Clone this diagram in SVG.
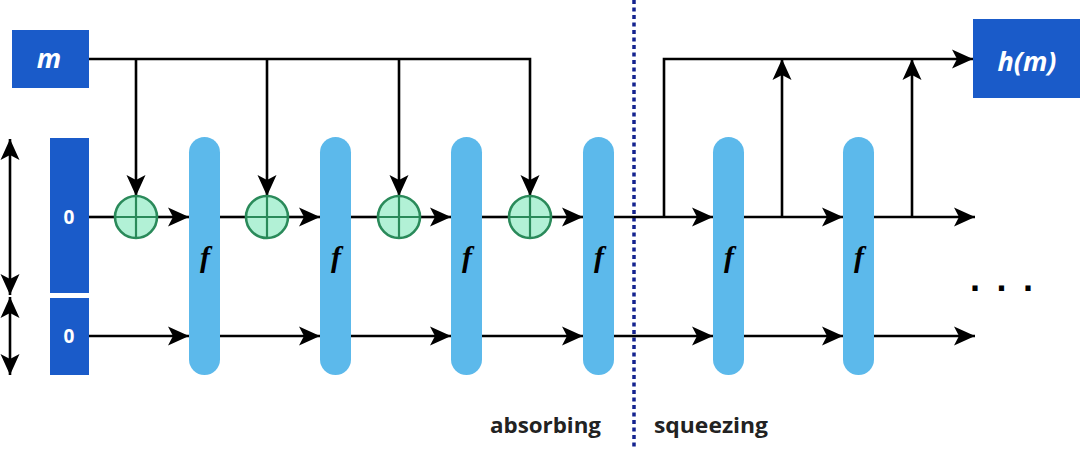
<svg xmlns="http://www.w3.org/2000/svg" width="1080" height="450" viewBox="0 0 1080 450">
<style>
.ln{stroke:#000;stroke-width:2.6;fill:none}
.ar{marker-end:url(#ah)}
.blk{fill:#1a5bc9}
.bar{fill:#5cb9eb}
.xor{fill:#b2f1d6;stroke:#2a8a5a;stroke-width:2.6}
.xl{stroke:#2a8a5a;stroke-width:2.2}
.wt{fill:#fff;font-family:"Open Sans","Liberation Sans",sans-serif;font-weight:bold;text-anchor:middle}
.ft{font-family:"Liberation Serif",serif;font-style:italic;font-weight:bold;font-size:30px;text-anchor:middle;fill:#000}
.lab{font-family:"Open Sans","Liberation Sans",sans-serif;font-weight:bold;font-size:22px;fill:#222}
</style>
<defs>
<marker id="ah" markerUnits="userSpaceOnUse" markerWidth="22" markerHeight="22" viewBox="0 0 22 22" refX="21" refY="11" orient="auto">
<path d="M0,1.5 L21,11 L0,20.5 L5,11 Z" fill="#000"/>
</marker>
<marker id="ahs" markerUnits="userSpaceOnUse" markerWidth="22" markerHeight="22" viewBox="0 0 22 22" refX="1" refY="11" orient="auto">
<path d="M22,1.5 L1,11 L22,20.5 L17,11 Z" fill="#000"/>
</marker>
</defs>
<rect width="1080" height="450" fill="#fff"/>

<g id="divider">
<line x1="634" y1="0" x2="634" y2="450" stroke="#14238f" stroke-width="3.5" stroke-dasharray="4,3.5"/>
</g>

<g id="connectors">
<polyline class="ln" points="89,59 530,59 530,196" marker-end="url(#ah)"/>
<line class="ln ar" x1="136" y1="59" x2="136" y2="196"/>
<line class="ln ar" x1="267" y1="59" x2="267" y2="196"/>
<line class="ln ar" x1="399" y1="59" x2="399" y2="196"/>
<line class="ln" x1="89" y1="217" x2="115" y2="217"/>
<line class="ln ar" x1="157" y1="217" x2="189" y2="217"/>
<line class="ln" x1="220" y1="217" x2="246" y2="217"/>
<line class="ln ar" x1="288" y1="217" x2="320" y2="217"/>
<line class="ln" x1="351" y1="217" x2="378" y2="217"/>
<line class="ln ar" x1="420" y1="217" x2="451" y2="217"/>
<line class="ln" x1="482" y1="217" x2="509" y2="217"/>
<line class="ln ar" x1="551" y1="217" x2="583" y2="217"/>
<line class="ln ar" x1="614" y1="217" x2="713" y2="217"/>
<line class="ln ar" x1="743" y1="217" x2="843" y2="217"/>
<line class="ln ar" x1="874" y1="217" x2="975" y2="217"/>
<line class="ln ar" x1="89" y1="336" x2="189" y2="336"/>
<line class="ln ar" x1="220" y1="336" x2="320" y2="336"/>
<line class="ln ar" x1="351" y1="336" x2="451" y2="336"/>
<line class="ln ar" x1="482" y1="336" x2="583" y2="336"/>
<line class="ln ar" x1="614" y1="336" x2="713" y2="336"/>
<line class="ln ar" x1="743" y1="336" x2="843" y2="336"/>
<line class="ln ar" x1="874" y1="336" x2="975" y2="336"/>
<polyline class="ln" points="664,217 664,59 973,59" marker-end="url(#ah)"/>
<line class="ln ar" x1="782" y1="217" x2="782" y2="59"/>
<line class="ln ar" x1="912" y1="217" x2="912" y2="59"/>
<line class="ln" x1="10" y1="139" x2="10" y2="295" marker-start="url(#ahs)" marker-end="url(#ah)"/>
<line class="ln" x1="10" y1="297" x2="10" y2="375" marker-start="url(#ahs)" marker-end="url(#ah)"/>
</g>

<g id="m"><rect class="blk" x="12" y="30" width="77" height="58"/><text class="wt" x="49" y="68" font-size="27" font-style="italic">m</text></g>
<g id="hm"><rect class="blk" x="973" y="19" width="107" height="79"/><text class="wt" x="1027" y="71" font-size="27" font-style="italic">h(m)</text></g>
<g id="state-r"><rect class="blk" x="50" y="138" width="39" height="155"/><text class="wt" x="69" y="224" font-size="19">0</text></g>
<g id="state-c"><rect class="blk" x="50" y="298" width="39" height="77"/><text class="wt" x="69" y="343" font-size="19">0</text></g>

<g id="xor1"><circle class="xor" cx="136" cy="217" r="21"/><line class="xl" x1="115" y1="217" x2="157" y2="217"/><line class="xl" x1="136" y1="196" x2="136" y2="238"/></g>
<g id="xor2"><circle class="xor" cx="267" cy="217" r="21"/><line class="xl" x1="246" y1="217" x2="288" y2="217"/><line class="xl" x1="267" y1="196" x2="267" y2="238"/></g>
<g id="xor3"><circle class="xor" cx="399" cy="217" r="21"/><line class="xl" x1="378" y1="217" x2="420" y2="217"/><line class="xl" x1="399" y1="196" x2="399" y2="238"/></g>
<g id="xor4"><circle class="xor" cx="530" cy="217" r="21"/><line class="xl" x1="509" y1="217" x2="551" y2="217"/><line class="xl" x1="530" y1="196" x2="530" y2="238"/></g>

<g id="f1"><rect class="bar" x="189" y="137" width="31" height="238" rx="15.5"/><text class="ft" x="205" y="267">f</text></g>
<g id="f2"><rect class="bar" x="320" y="137" width="31" height="238" rx="15.5"/><text class="ft" x="336" y="267">f</text></g>
<g id="f3"><rect class="bar" x="451" y="137" width="31" height="238" rx="15.5"/><text class="ft" x="467" y="267">f</text></g>
<g id="f4"><rect class="bar" x="583" y="137" width="31" height="238" rx="15.5"/><text class="ft" x="599" y="267">f</text></g>
<g id="f5"><rect class="bar" x="713" y="137" width="31" height="238" rx="15.5"/><text class="ft" x="729" y="267">f</text></g>
<g id="f6"><rect class="bar" x="843" y="137" width="31" height="238" rx="15.5"/><text class="ft" x="859" y="267">f</text></g>

<g id="labels">
<text x="970" y="291" font-family="Liberation Sans, sans-serif" font-weight="bold" font-size="36" letter-spacing="16.5" fill="#000">...</text>
<text class="lab" x="490" y="433" textLength="111" lengthAdjust="spacingAndGlyphs">absorbing</text>
<text class="lab" x="654" y="433" textLength="114" lengthAdjust="spacingAndGlyphs">squeezing</text>
</g>
</svg>
